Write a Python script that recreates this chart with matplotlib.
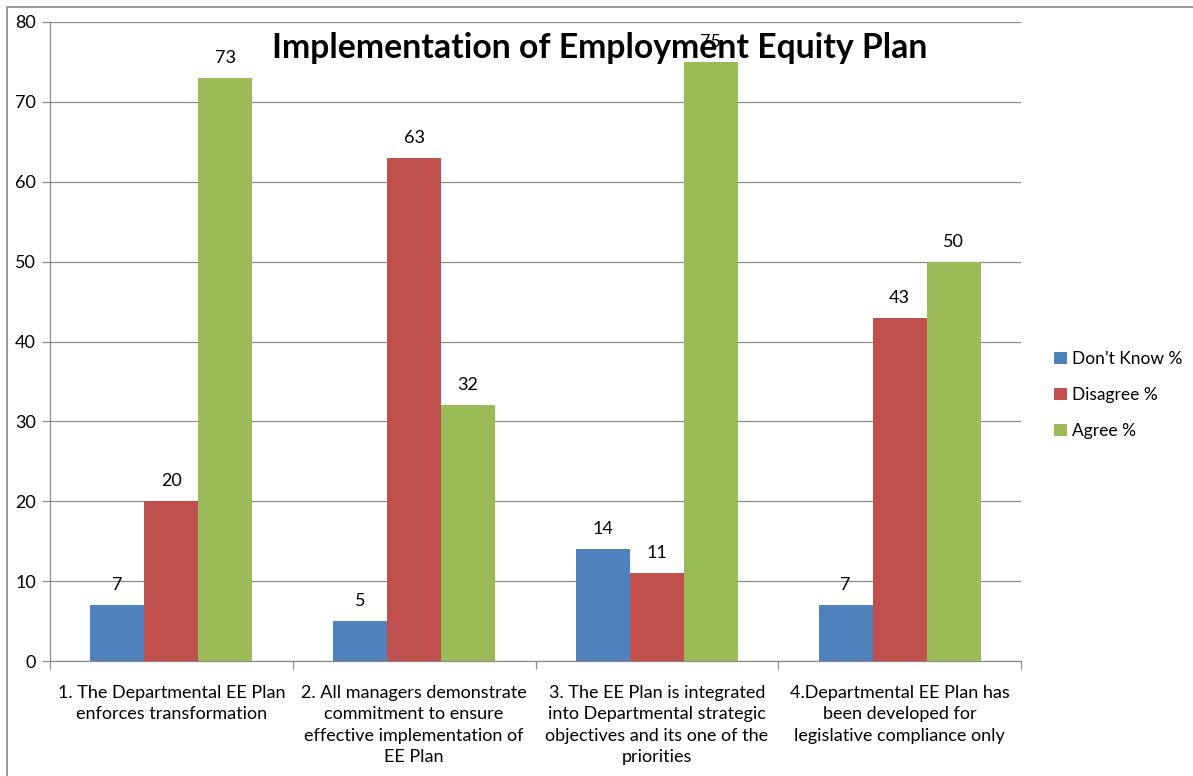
import numpy as np
import matplotlib.pyplot as plt
from matplotlib.patches import Rectangle

# survey responses per statement
categories = [
    "1. The Departmental EE Plan\nenforces transformation",
    "2. All managers demonstrate\ncommitment to ensure\neffective implementation of\nEE Plan",
    "3. The EE Plan is integrated\ninto Departmental strategic\nobjectives and its one of the\npriorities",
    "4.Departmental EE Plan has\nbeen developed for\nlegislative compliance only",
]
series_names = ["Don\u2019t Know %", "Disagree %", "Agree %"]
dont_know = [7, 5, 14, 7]
disagree = [20, 63, 11, 43]
agree = [73, 32, 75, 50]
colors = ["#4F81BD", "#C0504D", "#9BBB59"]

plt.rcParams['font.family'] = ['Lato', 'DejaVu Sans']

fig = plt.figure(figsize=(11.93, 7.76), dpi=100)
W, H = 1193, 776
ax = fig.add_axes([50 / W, 1 - 661 / H, (1021 - 50) / W, (661 - 22) / H])

# outer chart border
fig.patches.append(Rectangle((7 / W, -0.1), 1.2, 1 - 7.5 / H + 0.1, transform=fig.transFigure,
                             fill=False, edgecolor="#888888", linewidth=1.2, zorder=0))

x = np.arange(len(categories))
width = 1 / 4.5
for i, (vals, name, col) in enumerate(zip([dont_know, disagree, agree], series_names, colors)):
    pos = x + (i - 1) * width
    bars = ax.bar(pos, vals, width, color=col, label=name, zorder=3)
    for p, v in zip(pos, vals):
        ax.text(p, v + 1.5, str(v), ha="center", va="bottom", fontsize=13, zorder=4)

ax.set_xlim(-0.5, len(categories) - 0.5)
ax.set_ylim(0, 80)
ax.set_yticks(range(0, 81, 10))
ax.yaxis.grid(True, color="#8c8c8c", linewidth=0.9, zorder=0)
ax.set_axisbelow(True)

ax.set_xticks(x)
ax.set_xticklabels(categories, fontsize=13, linespacing=1.42, va="top")
ax.set_xticks(np.arange(-0.5, len(categories)), minor=True)
ax.tick_params(axis="x", which="major", length=0, pad=17)
ax.tick_params(axis="x", which="minor", length=6, color="#8c8c8c", width=0.9)
ax.tick_params(axis="y", length=6, color="#8c8c8c", width=0.9, labelsize=13, pad=4)

for s in ["top", "right"]:
    ax.spines[s].set_visible(False)
for s in ["left", "bottom"]:
    ax.spines[s].set_color("#8c8c8c")
    ax.spines[s].set_linewidth(0.9)

fig.text(600 / W, 1 - 48 / H, "Implementation of Employment Equity Plan",
         ha="center", va="center", fontsize=24.3, fontweight="bold")

fig.legend(loc="center left", bbox_to_anchor=(1054 / W, 1 - 395 / H), frameon=False,
           fontsize=12.5, handlelength=0.75, handleheight=0.75, handletextpad=0.3,
           labelspacing=1.15, borderaxespad=0, borderpad=0)

fig.savefig("out.png", dpi=100)
